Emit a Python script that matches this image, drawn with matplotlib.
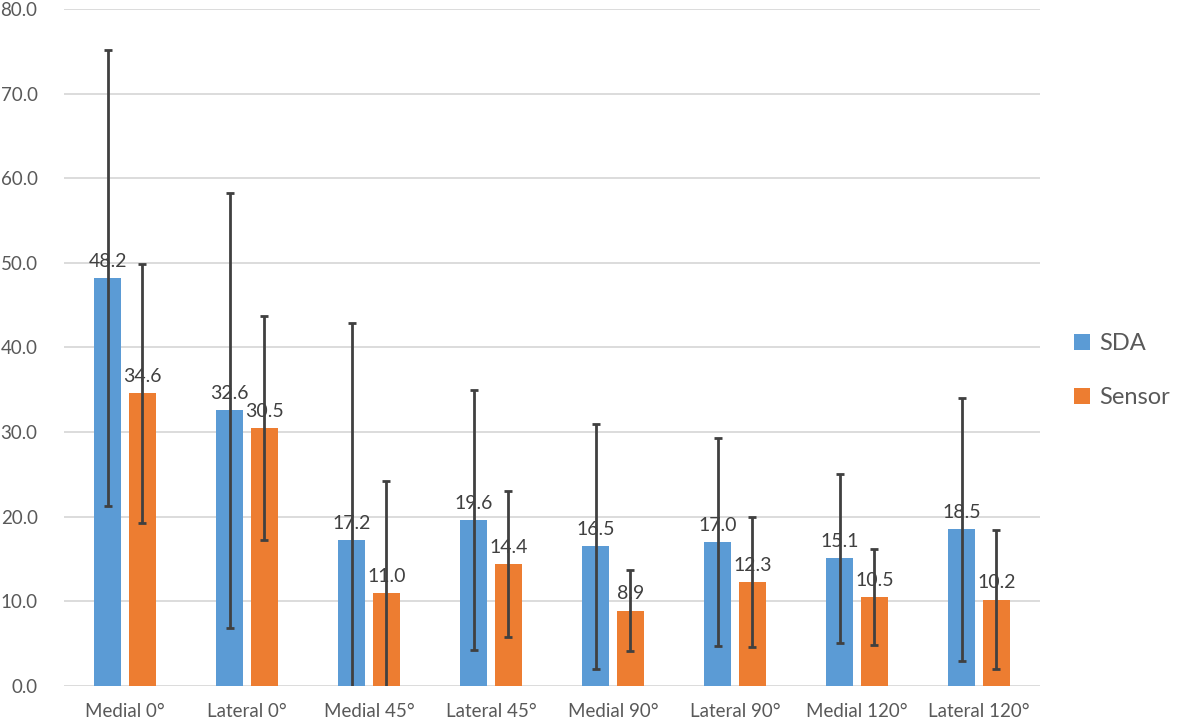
import numpy as np
import matplotlib.pyplot as plt

# datos
categorias = ['Medial 0°', 'Lateral 0°', 'Medial 45°', 'Lateral 45°',
              'Medial 90°', 'Lateral 90°', 'Medial 120°', 'Lateral 120°']
sda = [48.2, 32.6, 17.2, 19.6, 16.5, 17.0, 15.1, 18.5]
sensor = [34.6, 30.5, 11.0, 14.4, 8.9, 12.3, 10.5, 10.2]
sda_err = [26.9, 25.7, 25.7, 15.4, 14.5, 12.3, 10.0, 15.5]
sensor_err = [15.3, 13.2, 13.2, 8.6, 4.75, 7.7, 5.7, 8.2]

azul = '#5B9BD5'
naranja = '#ED7D31'
gris_texto = '#595959'

plt.rcParams['font.family'] = ['Lato', 'DejaVu Sans']

fig = plt.figure(figsize=(11.81, 7.23), dpi=100)
ax = fig.add_axes([0.0542, 0.0512, 0.8264, 0.9364])

x = np.arange(len(categorias))
ancho = 0.221
desp = 0.143

b1 = ax.bar(x - desp, sda, ancho, color=azul, label='SDA', zorder=2)
b2 = ax.bar(x + desp, sensor, ancho, color=naranja, label='Sensor', zorder=2)

# barras de error
ax.errorbar(x - desp, sda, yerr=sda_err, fmt='none', ecolor='#404040',
            elinewidth=2.0, capsize=3, capthick=2.0, zorder=5)
ax.errorbar(x + desp, sensor, yerr=sensor_err, fmt='none', ecolor='#404040',
            elinewidth=2.0, capsize=3, capthick=2.0, zorder=5)

# etiquetas de valores
for xi, v in zip(x - desp, sda):
    ax.annotate(f'{v:.1f}', (xi, v), xytext=(0, 6), textcoords='offset points',
                ha='center', va='bottom', fontsize=14, color='#404040', zorder=4)
for xi, v in zip(x + desp, sensor):
    ax.annotate(f'{v:.1f}', (xi, v), xytext=(0, 6), textcoords='offset points',
                ha='center', va='bottom', fontsize=14, color='#404040', zorder=4)

ax.set_xlim(-0.5, 7.5)
ax.set_ylim(0, 80)
ax.set_yticks(np.arange(0, 81, 10))
ax.set_yticklabels([f'{t:.1f}' for t in np.arange(0, 81, 10)])
ax.set_xticks(x)
ax.set_xticklabels(categorias)
ax.tick_params(axis='both', length=0, labelsize=13.5, colors=gris_texto)
ax.tick_params(axis='y', pad=19)
ax.tick_params(axis='x', pad=12)

ax.grid(axis='y', color='#D9D9D9', linewidth=1.3, zorder=0)
ax.set_axisbelow(True)
for s in ax.spines.values():
    s.set_visible(False)

fig.legend(handles=[b1, b2], loc='center left', bbox_to_anchor=(0.909, 0.487),
           frameon=False, fontsize=17, handlelength=0.7, handleheight=0.7,
           handletextpad=0.4, labelspacing=1.4, borderpad=0, borderaxespad=0,
           labelcolor=gris_texto)

plt.savefig('out.png', dpi=100)
